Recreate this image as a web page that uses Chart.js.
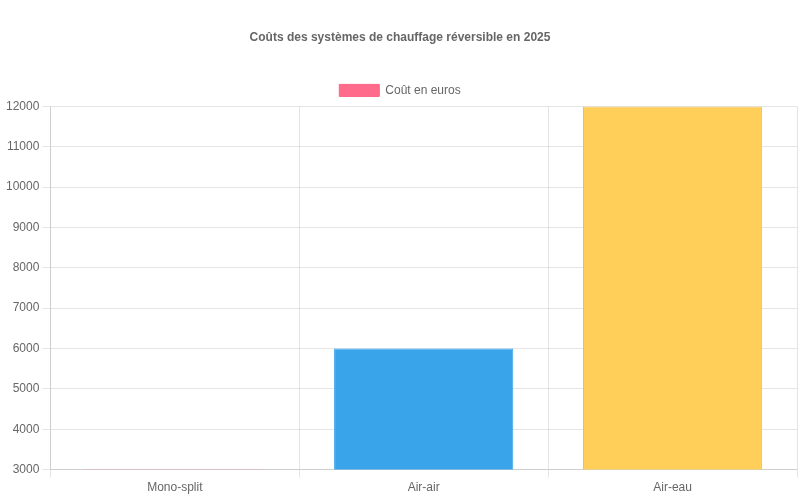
<!doctype html>
<html lang="fr">
<head>
  <meta charset="utf-8">
  <title>Coûts des systèmes de chauffage réversible</title>
  <script src="https://cdn.jsdelivr.net/npm/chart.js"></script>
  <style>
    body { margin: 0; background: #fff; }
    #wrap { width: 800px; height: 500px; }
  </style>
</head>
<body>
  <div id="wrap"><canvas id="chart"></canvas></div>
  <script>
    const categories = ['Mono-split', 'Air-air', 'Air-eau'];
    const costs = [3000, 6000, 12000];
    const fillColors = ['rgba(255, 99, 132, 0.95)', 'rgba(54, 162, 235, 0.98)', 'rgba(255, 206, 86, 0.98)'];
    const lineColors = ['rgba(255, 99, 132, 1)', 'rgba(54, 162, 235, 1)', 'rgba(240, 190, 70, 1)'];

    Chart.defaults.font.family = '"Liberation Sans", Arial, sans-serif';
    Chart.defaults.color = '#666';

    new Chart(document.getElementById('chart'), {
      type: 'bar',
      data: {
        labels: categories,
        datasets: [{
          label: 'Coût en euros',
          data: costs,
          backgroundColor: fillColors,
          borderColor: lineColors,
          borderWidth: 1
        }]
      },
      options: {
        responsive: true,
        maintainAspectRatio: false,
        animation: false,
        layout: { padding: { left: 3, right: 3, bottom: 2 } },
        plugins: {
          title: {
            display: true,
            text: 'Coûts des systèmes de chauffage réversible en 2025',
            font: { size: 12, weight: 'bold' },
            padding: { top: 30, bottom: 30 }
          },
          legend: {
            labels: { boxWidth: 40, boxHeight: 12 }
          }
        },
        scales: {
          y: {
            min: 3000,
            max: 12000,
            ticks: {
              stepSize: 1000,
              callback: v => String(v)
            }
          }
        }
      }
    });
  </script>
</body>
</html>
